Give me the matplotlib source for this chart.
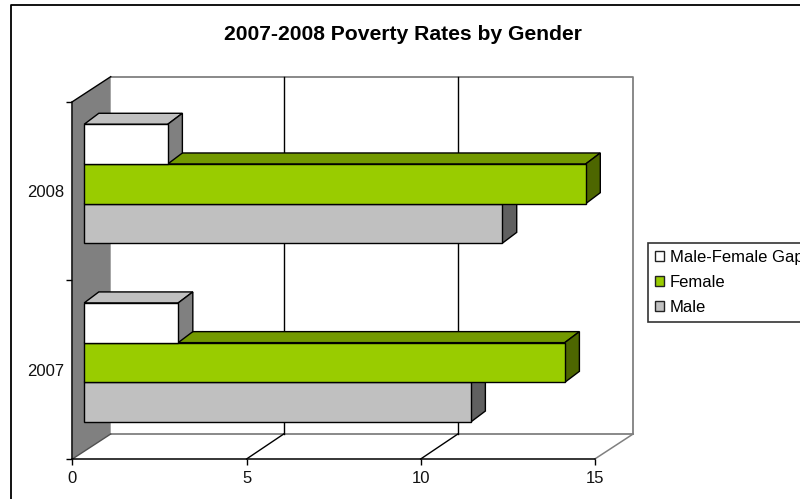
import matplotlib
matplotlib.use("Agg")
import matplotlib.pyplot as plt
from matplotlib.patches import Polygon, Rectangle
from matplotlib.lines import Line2D

plt.rcParams['font.family'] = ['Liberation Sans', 'DejaVu Sans']

title = "2007-2008 Poverty Rates by Gender"
years = ["2007", "2008"]
series_names = ["Male", "Female", "Male-Female Gap"]
male = [11.1, 12.0]
female = [13.8, 14.4]
gap = [2.7, 2.4]
series_values = [male, female, gap]
x_ticks = [0, 5, 10, 15]

W, H = 800, 499
fig = plt.figure(figsize=(W / 100, H / 100), dpi=100, facecolor='white')

# axes frame in pixels: x 0..15 -> 72.4..594.8, y 0..2 -> 459..101.7
L, R, B, T = 72.4, 594.8, 459.0, 101.7
ax = fig.add_axes([L / W, 1 - B / H, (R - L) / W, (B - T) / H])
ax.set_xlim(0, 15)
ax.set_ylim(0, 2)
ax.patch.set_visible(False)
sx = (R - L) / 15
sy = (B - T) / 2


def px(dx, dy):
    return dx / sx, dy / sy


WALL_X, WALL_Y = px(38.3, 25)
GRID_X, _ = px(37.2, 0)
BASE_X, BASE_Y = px(11.8, 7.2)
BAR_DX, BAR_DY = px(14.6, 11)
BAR_H = 39.7 / sy

GRID = '#000000'
WALL = '#808080'


def poly(points, face, edge='black', lw=1.0, z=2):
    ax.add_patch(Polygon(points, closed=True, facecolor=face, edgecolor=edge,
                         linewidth=lw, zorder=z, clip_on=False, joinstyle='miter'))


def line(xs, ys, color, lw=1.0, z=1.5):
    ax.add_line(Line2D(xs, ys, color=color, linewidth=lw, zorder=z, clip_on=False))


# back wall and floor
line([WALL_X, 15 + WALL_X, 15 + WALL_X], [2 + WALL_Y, 2 + WALL_Y, WALL_Y], WALL, 1.3)
line([WALL_X, 15 + WALL_X], [WALL_Y, WALL_Y], WALL, 1.3)
line([15, 15 + WALL_X], [0, WALL_Y], WALL, 1.1)
for t in x_ticks[1:-1]:
    line([t + GRID_X, t + GRID_X], [WALL_Y, 2 + WALL_Y], GRID, 1.0)
    line([t, t + GRID_X], [0, WALL_Y], GRID, 1.0)

# side wall
poly([(0, 0), (WALL_X, WALL_Y), (WALL_X, 2 + WALL_Y), (0, 2)], WALL, edge='none', z=1.6)
line([0, WALL_X], [2, 2 + WALL_Y], 'black', 1.0, 1.7)
line([0, WALL_X], [0, WALL_Y], '#505050', 1.0, 1.7)

faces = [('#c0c0c0', '#909090', '#606060'),
         ('#99cc00', '#739900', '#4d6600'),
         ('#ffffff', '#c0c0c0', '#808080')]

for i in range(len(years)):
    y0 = i + 0.5 + BASE_Y - 1.5 * BAR_H
    for j, vals in enumerate(series_values):
        x0 = BASE_X
        x1 = BASE_X + vals[i]
        yb = y0 + j * BAR_H
        yt = yb + BAR_H
        front, top, side = faces[j]
        z = 3 + i + j * 0.1
        poly([(x0, yt), (x1, yt), (x1 + BAR_DX, yt + BAR_DY), (x0 + BAR_DX, yt + BAR_DY)], top, z=z)
        poly([(x1, yb), (x1 + BAR_DX, yb + BAR_DY), (x1 + BAR_DX, yt + BAR_DY), (x1, yt)], side, z=z)
        poly([(x0, yb), (x1, yb), (x1, yt), (x0, yt)], front, z=z + 0.01)

# axes
for s in ['top', 'right']:
    ax.spines[s].set_visible(False)
for s in ['left', 'bottom']:
    ax.spines[s].set_linewidth(1.1)
    ax.spines[s].set_zorder(2)
ax.set_xticks(x_ticks)
ax.set_xticklabels([str(t) for t in x_ticks])
ax.set_yticks([0, 1, 2])
ax.set_yticklabels([])
ax.set_yticks([0.5, 1.5], minor=True)
ax.set_yticklabels(years, minor=True)
ax.tick_params(axis='both', which='major', length=4, width=1.0, color='black')
ax.tick_params(axis='y', which='minor', length=0, pad=6.0)
ax.tick_params(axis='x', which='major', pad=4.6)
for lb in ax.get_xticklabels() + ax.get_yticklabels(minor=True):
    lb.set_fontsize(12)
    lb.set_color('#111111')

# chart border
fig.add_artist(Line2D([11 / W, 11 / W, 1], [0, 1 - 5 / H, 1 - 5 / H], color='black',
                      linewidth=1.3, transform=fig.transFigure))

fig.text(403 / W, 1 - 34.5 / H, title, ha='center', va='center',
         fontsize=15.2, fontweight='bold', color='black')

# legend
handles = [Rectangle((0, 0), 1, 1, facecolor=faces[j][0], edgecolor='#222222', linewidth=1.0)
           for j in (2, 1, 0)]
labels = [series_names[j] for j in (2, 1, 0)]
leg = fig.legend(handles, labels, loc='upper left',
                 bbox_to_anchor=(648 / W, 1 - 243 / H), bbox_transform=fig.transFigure,
                 borderaxespad=0, fancybox=False, framealpha=1, edgecolor='#333333',
                 fontsize=12, handlelength=0.56, handleheight=0.56, handletextpad=0.32,
                 labelspacing=0.6, borderpad=0.42)
leg.get_frame().set_linewidth(1.2)

fig.savefig('out.png', dpi=100, facecolor='white')
